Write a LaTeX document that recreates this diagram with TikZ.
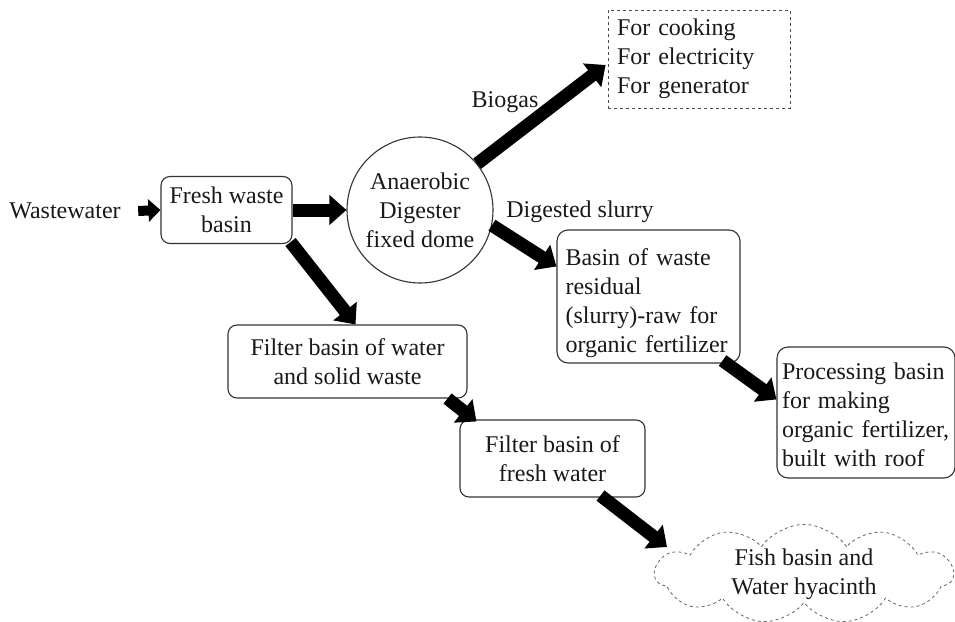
\documentclass[tikz,border=0pt]{standalone}
\usepackage{fontspec}
\setmainfont{Liberation Serif}
\usetikzlibrary{arrows.meta,shapes.symbols,calc}
\begin{document}
\begin{tikzpicture}[x=1pt,y=-1pt,
  every node/.style={font=\fontsize{24}{29}\selectfont, text=black!90},
  box/.style={draw=black!80, line width=1.1pt, rounded corners=9pt, fill=white, align=center, inner sep=0pt},
  lbox/.style={draw=black!80, line width=1.1pt, rounded corners=11pt, fill=white, align=left, inner xsep=9pt, inner ysep=0pt},
  bigarrow/.style={line width=13pt, -{Triangle[length=17pt,width=29pt]}, black},
  smallarrow/.style={line width=10pt, -{Triangle[length=12pt,width=22pt]}, black}]
\useasboundingbox (0,0) rectangle (955,621);

% nodes
\node (ww) at (65,211) {Wastewater};
\node[box, minimum width=131pt, minimum height=67pt] (fresh) at (226.5,210) {Fresh waste\\basin};
\node[draw=black!80, line width=1.1pt, circle, minimum size=146pt, align=center, inner sep=0pt, fill=white] (dig) at (420,210) {Anaerobic\\Digester\\fixed dome};
\node[draw=black!70, dashed, line width=0.8pt, align=left, text width=164pt, minimum height=98pt, inner xsep=9pt, inner ysep=0pt] (uses) at (699,59) {For cooking\\For electricity\\For generator};
\node (biogas) at (505,102) {Biogas};
\node (slurry) at (580,212) {Digested slurry};
\node[lbox, text width=166pt, inner xsep=8.5pt, minimum height=133pt] (basin) at (648.5,296.5) {\rule{0pt}{31pt}Basin of waste\\residual\\(slurry)-raw for\\organic fertilizer};
\node[lbox, text width=168pt, inner xsep=5pt, minimum height=131pt] (proc) at (866,412.5) {\rule{0pt}{22pt}Processing basin\\for making\\organic fertilizer,\\built with roof};
\node[box, minimum width=239pt, minimum height=73pt] (filt1) at (347.5,361.5) {Filter basin of water\\and solid waste};
\node[box, minimum width=185pt, minimum height=77pt] (filt2) at (552.5,458.5) {Filter basin of\\fresh water};
\node[cloud, cloud puffs=11, cloud puff arc=110, cloud ignores aspect, draw=black!60, dashed, line width=0.8pt,
      minimum width=298pt, minimum height=90pt, align=center, inner sep=0pt] (cloud) at (804,574) {Fish basin and\\Water hyacinth};

% connectors
\draw[smallarrow] ([xshift=14pt]ww.east) -- (fresh.west);
\draw[bigarrow] (fresh.east) -- (dig.west);
\draw[bigarrow] (dig.39) -- ($(uses.west)+(-2,6)$);
\draw[bigarrow] (dig.-12) -- ($(basin.north west)+(0,37)$);
\draw[bigarrow] ($(basin.south east)+(-18,-3)$) -- ($(proc.north west)+(0,53)$);
\draw[bigarrow] ($(fresh.south east)+(-2,-2)$) -- ($(filt1.north)+(8,0)$);
\draw[bigarrow] ($(filt1.south east)+(-20,0)$) -- ($(filt2.north west)+(17,2)$);
\draw[bigarrow] ($(filt2.south)+(48,-2)$) -- ($(cloud.center)+(-137,-27)$);
\end{tikzpicture}
\end{document}
